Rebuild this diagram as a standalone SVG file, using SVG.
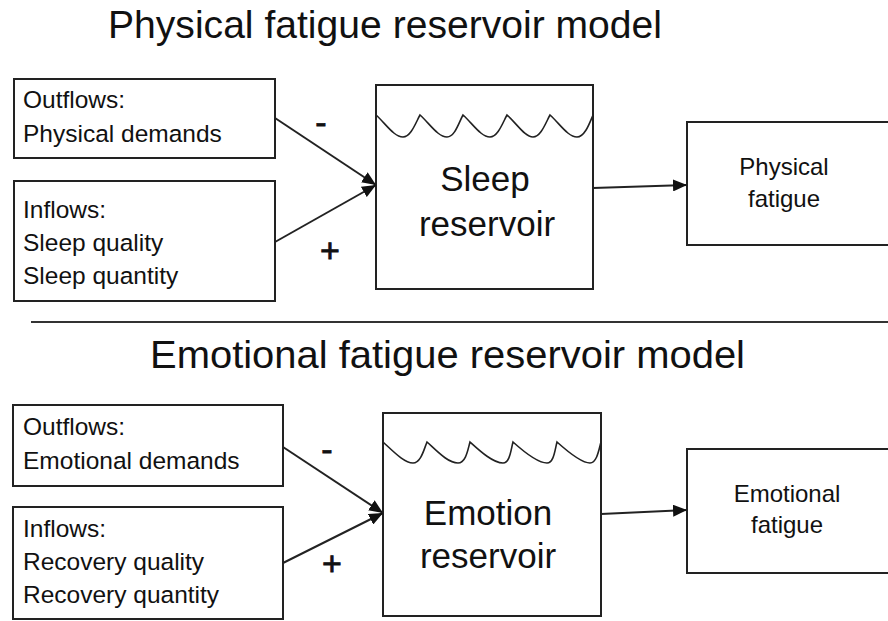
<svg xmlns="http://www.w3.org/2000/svg" width="888" height="621" viewBox="0 0 888 621">
  <style>
    .box { fill: #ffffff; stroke: #222222; stroke-width: 2; }
    .wave { fill: none; stroke: #222222; stroke-width: 1.6; }
    .link { fill: none; stroke: #222222; stroke-width: 2; }
    .title { font-family: "Liberation Sans", Arial, sans-serif; font-size: 39px; fill: #111111; }
    .txt { font-family: "Liberation Sans", Arial, sans-serif; font-size: 24.5px; fill: #111111; }
    .big { font-family: "Liberation Sans", Arial, sans-serif; font-size: 35px; fill: #111111; text-anchor: middle; }
    .mid { font-family: "Liberation Sans", Arial, sans-serif; font-size: 24px; fill: #111111; text-anchor: middle; }
    .sign { font-family: "Liberation Sans", Arial, sans-serif; font-size: 34px; fill: #111111; text-anchor: middle; stroke: #111111; stroke-width: 0.8; }
  </style>
  <defs>
    <marker id="arrow" viewBox="0 0 14 12" refX="14" refY="6" markerWidth="14" markerHeight="12" markerUnits="userSpaceOnUse" orient="auto">
      <path d="M0,0 L14,6 L0,12 Z" fill="#111111"/>
    </marker>
  </defs>

  <rect width="888" height="621" fill="#ffffff"/>

  <!-- Physical model -->
  <text class="title" x="108" y="38" textLength="554" lengthAdjust="spacingAndGlyphs">Physical fatigue reservoir model</text>

  <g id="physical-outflows">
    <rect class="box" x="14" y="79" width="261" height="79"/>
    <text class="txt" x="23" y="108">Outflows:</text>
    <text class="txt" x="23" y="142">Physical demands</text>
  </g>

  <g id="physical-inflows">
    <rect class="box" x="14" y="181" width="261" height="120"/>
    <text class="txt" x="23" y="218">Inflows:</text>
    <text class="txt" x="23" y="251">Sleep quality</text>
    <text class="txt" x="23" y="284">Sleep quantity</text>
  </g>

  <g id="sleep-reservoir">
    <rect class="box" x="376" y="85" width="217" height="204"/>
    <path class="wave" d="M376,115 C386,124 394,137 403,137 C411,137 416,122 420,115
      C430,124 438,137 447,137 C455,137 459,122 463,115
      C473,124 481,137 490,137 C498,137 503,122 507,115
      C517,124 525,137 533,137 C541,137 546,122 550,115
      C560,124 568,137 577,137 C585,137 590,122 593,115"/>
    <text class="big" x="485" y="191">Sleep</text>
    <text class="big" x="487" y="236">reservoir</text>
  </g>

  <g id="physical-fatigue">
    <rect class="box" x="687" y="122" width="210" height="123"/>
    <text class="mid" x="784" y="175">Physical</text>
    <text class="mid" x="784" y="207">fatigue</text>
  </g>

  <!-- separator -->
  <line x1="31" y1="322" x2="888" y2="322" stroke="#333333" stroke-width="2"/>

  <!-- Emotional model -->
  <text class="title" x="150" y="368" textLength="595" lengthAdjust="spacingAndGlyphs">Emotional fatigue reservoir model</text>

  <g id="emotional-outflows">
    <rect class="box" x="13" y="405" width="270" height="81"/>
    <text class="txt" x="23" y="435">Outflows:</text>
    <text class="txt" x="23" y="469">Emotional demands</text>
  </g>

  <g id="emotional-inflows">
    <rect class="box" x="13" y="507" width="270" height="112"/>
    <text class="txt" x="23" y="537">Inflows:</text>
    <text class="txt" x="23" y="570">Recovery quality</text>
    <text class="txt" x="23" y="603">Recovery quantity</text>
  </g>

  <g id="emotion-reservoir">
    <rect class="box" x="383" y="413" width="218" height="203"/>
    <path class="wave" d="M383,442 C393,451 404,463 413,463 C421,463 424,449 427,442
      C437,451 448,463 458,463 C466,463 468,449 470,442
      C480,451 493,463 503,463 C510,463 511,449 513,442
      C523,451 538,463 547,463 C554,463 555,449 557,442
      C567,451 581,463 590,463 C597,463 599,449 601,442"/>
    <text class="big" x="488" y="525">Emotion</text>
    <text class="big" x="488" y="568">reservoir</text>
  </g>

  <g id="emotional-fatigue">
    <rect class="box" x="687" y="449" width="210" height="124"/>
    <text class="mid" x="787" y="502">Emotional</text>
    <text class="mid" x="787" y="533">fatigue</text>
  </g>

  <!-- connectors -->
  <g id="connectors">
    <line class="link" x1="275" y1="118" x2="376" y2="185" marker-end="url(#arrow)"/>
    <line class="link" x1="275" y1="242" x2="376" y2="185" marker-end="url(#arrow)"/>
    <line class="link" x1="593" y1="188" x2="687" y2="185" marker-end="url(#arrow)"/>
    <line class="link" x1="283" y1="447" x2="383" y2="513" marker-end="url(#arrow)"/>
    <line class="link" x1="283" y1="563" x2="383" y2="513" marker-end="url(#arrow)"/>
    <line class="link" x1="601" y1="514" x2="687" y2="510" marker-end="url(#arrow)"/>
    <text class="sign" x="321" y="134">-</text>
    <text class="sign" x="330" y="262">+</text>
    <text class="sign" x="327" y="461">-</text>
    <text class="sign" x="332" y="575">+</text>
  </g>
</svg>
